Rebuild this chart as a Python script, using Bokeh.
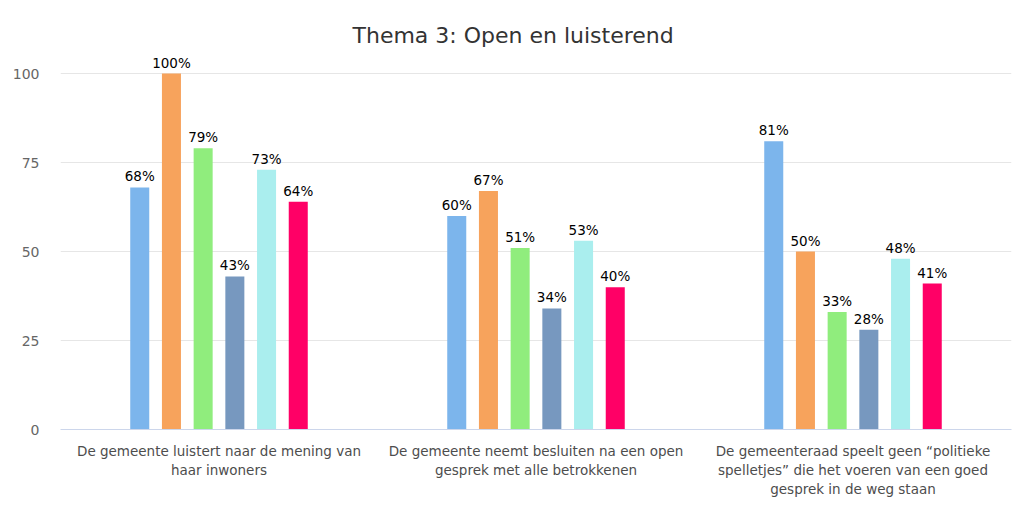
from bokeh.plotting import figure
from bokeh.models import Range1d, FixedTicker, ColumnDataSource
from bokeh.embed import file_html
from bokeh.resources import INLINE
from bokeh.core.properties import value

categories = [
    "De gemeente luistert naar de mening van\nhaar inwoners",
    "De gemeente neemt besluiten na een open\ngesprek met alle betrokkenen",
    "De gemeenteraad speelt geen \u201cpolitieke\nspelletjes\u201d die het voeren van een goed\ngesprek in de weg staan",
]
series_1 = [68, 60, 81]
series_2 = [100, 67, 50]
series_3 = [79, 51, 33]
series_4 = [43, 34, 28]
series_5 = [73, 53, 48]
series_6 = [64, 40, 41]
series = [series_1, series_2, series_3, series_4, series_5, series_6]
colors = ["#7cb5ec", "#f7a35c", "#90ed7d", "#7798bf", "#aaeeee", "#ff0066"]
offsets = [-0.25, -0.15, -0.05, 0.05, 0.15, 0.25]
y_ticks = [0, 25, 50, 75, 100]

FONT = "DejaVu Sans"

p = figure(width=1016, height=504, output_backend="svg", toolbar_location=None,
           x_range=Range1d(0, 3), y_range=Range1d(0, 106.2),
           min_border_left=60, min_border_right=5, min_border_top=51, min_border_bottom=75)
p.title.text = "Thema 3: Open en luisterend"
p.title.align = "left"
p.title.offset = 292
p.title.text_font = FONT
p.title.text_font_size = "22px"
p.title.text_font_style = "normal"
p.title.text_color = "#333333"
p.title.standoff = 8
p.outline_line_color = None

for vals, col, off in zip(series, colors, offsets):
    xs = [i + 0.5 + off for i in range(len(vals))]
    src = ColumnDataSource(dict(x=xs, top=vals, lab=[f"{v}%" for v in vals]))
    p.vbar(x="x", top="top", bottom=0, width=0.06, source=src, fill_color=col, line_color=None)
    p.text(x="x", y="top", text="lab", source=src, text_align="center", text_baseline="bottom",
           y_offset=-3, text_font=value(FONT), text_font_size="13.5px", text_color="#000000")

p.xaxis.ticker = FixedTicker(ticks=[0.5, 1.5, 2.5])
p.xaxis.major_label_overrides = {0.5: categories[0], 1.5: categories[1], 2.5: categories[2]}
p.xaxis.axis_line_color = "#ccd6eb"
p.xaxis.major_tick_line_color = None
p.xaxis.minor_tick_line_color = None
p.xaxis.major_label_text_font = FONT
p.xaxis.major_label_text_font_size = "13.5px"
p.xaxis.major_label_text_color = "#4d4d4d"
p.xaxis.major_label_standoff = 7

p.yaxis.ticker = FixedTicker(ticks=y_ticks)
p.yaxis.axis_line_color = None
p.yaxis.major_tick_line_color = None
p.yaxis.minor_tick_line_color = None
p.yaxis.major_label_text_font = FONT
p.yaxis.major_label_text_font_size = "14px"
p.yaxis.major_label_text_color = "#666666"
p.yaxis.major_label_standoff = 15

p.xgrid.grid_line_color = None
p.ygrid.grid_line_color = "#e6e6e6"

open("out.html", "w").write(file_html(p, INLINE))
